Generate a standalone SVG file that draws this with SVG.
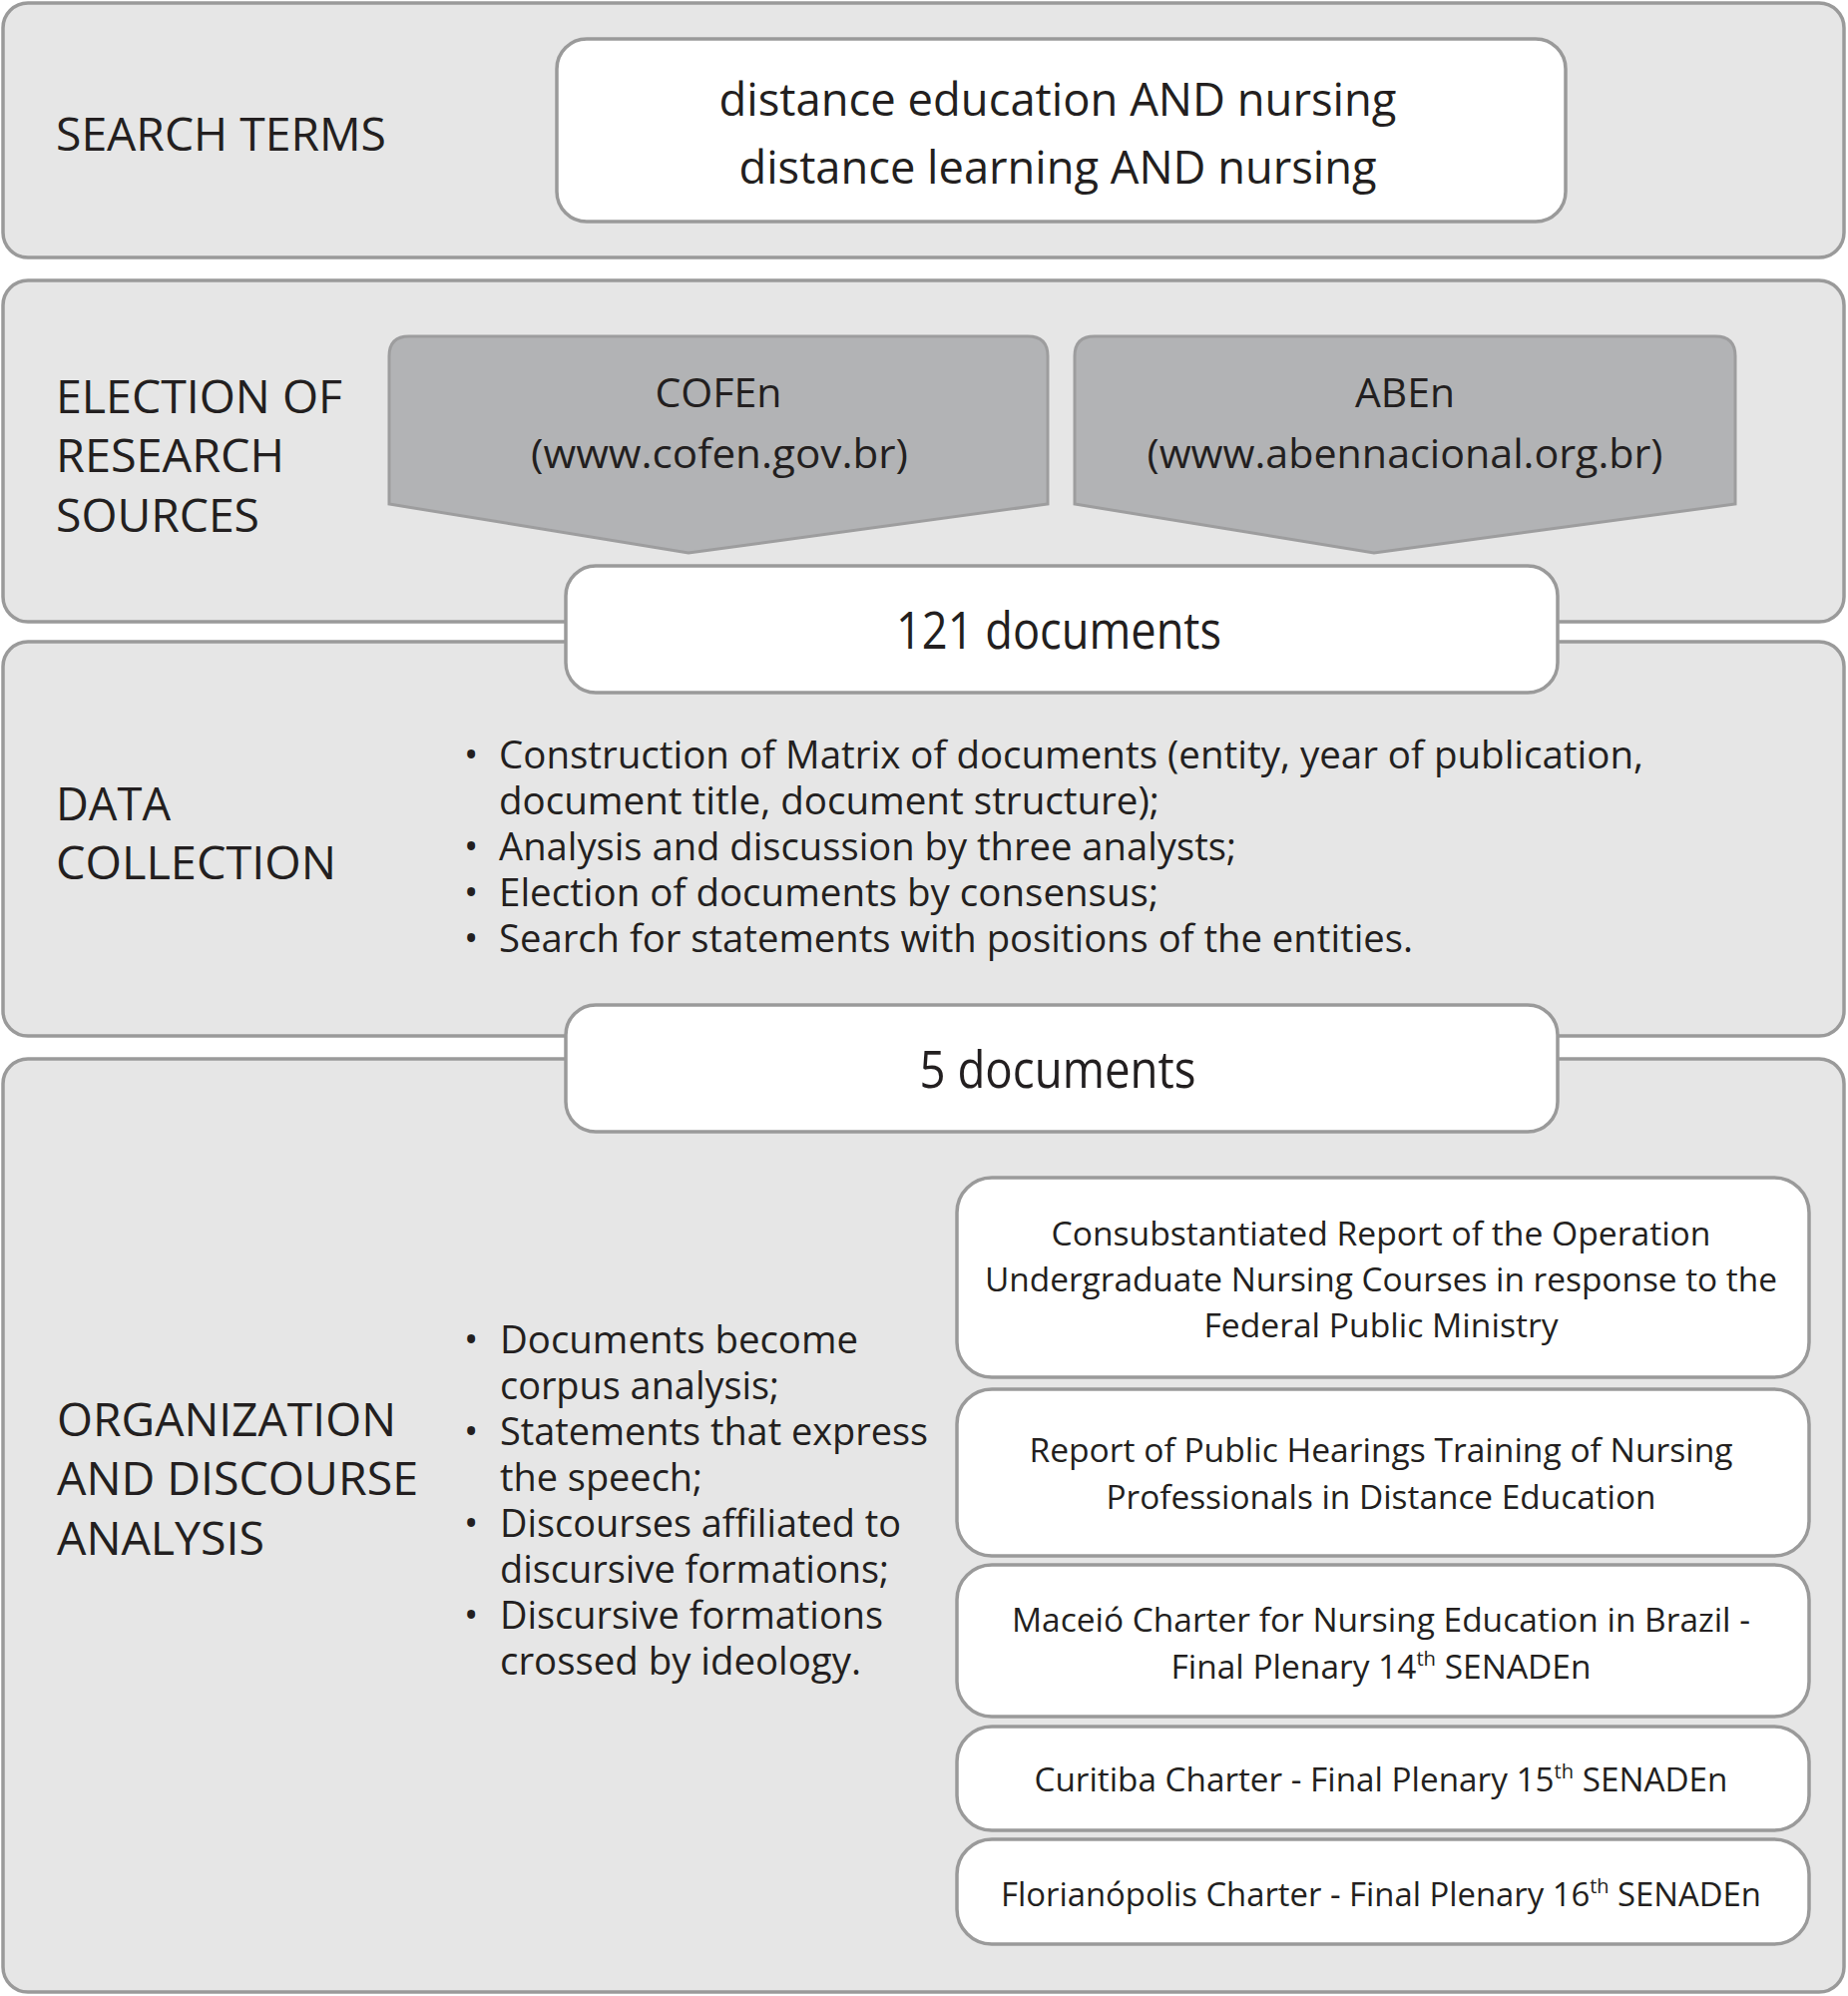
<svg xmlns="http://www.w3.org/2000/svg" width="1852" height="2000" viewBox="0 0 1852 2000">
<style>
.panel{fill:#e6e6e6;stroke:#9a9a9a;stroke-width:3.5}
.box{fill:#ffffff;stroke:#9a9a9a;stroke-width:3.5}
.chev{fill:#b2b3b5;stroke:#9d9d9e;stroke-width:3}
text{font-family:"Open Sans","Noto Sans","Liberation Sans",sans-serif;fill:#231f20}
.lbl{font-size:46px}
.mid{text-anchor:middle}
.big{font-size:46px}
.src{font-size:40px}
.cnt{font-size:51px}
.bl{font-size:38px}
.doc{font-size:33px}
.sup{font-size:20px}
</style>
<rect width="1852" height="2000" fill="#ffffff"/>

<g id="panel-search-terms">
<rect class="panel" x="3" y="3" width="1845" height="255" rx="25"/>
<text class="lbl" x="56" y="151" textLength="331" lengthAdjust="spacingAndGlyphs">SEARCH TERMS</text>
</g>
<g id="node-search-terms">
<rect class="box" x="558" y="39" width="1011" height="183" rx="30"/>
<text class="big mid"><tspan x="1060" y="116" textLength="679" lengthAdjust="spacingAndGlyphs">distance education AND nursing</tspan><tspan x="1060" y="184" textLength="639" lengthAdjust="spacingAndGlyphs">distance learning AND nursing</tspan></text>
</g>

<g id="panel-election">
<rect class="panel" x="3" y="281" width="1845" height="342" rx="25"/>
<text class="lbl"><tspan x="56" y="414" textLength="287" lengthAdjust="spacingAndGlyphs">ELECTION OF</tspan><tspan x="56" y="473" textLength="229" lengthAdjust="spacingAndGlyphs">RESEARCH</tspan><tspan x="56" y="533" textLength="204" lengthAdjust="spacingAndGlyphs">SOURCES</tspan></text>
</g>
<g id="node-cofen">
<path class="chev" d="M390,357 Q390,337 410,337 L1030,337 Q1050,337 1050,357 L1050,505 L690,554 L390,505 Z"/>
<text class="src mid"><tspan x="720" y="408" textLength="127" lengthAdjust="spacingAndGlyphs">COFEn</tspan><tspan x="721" y="469" textLength="378" lengthAdjust="spacingAndGlyphs">(www.cofen.gov.br)</tspan></text>
</g>
<g id="node-aben">
<path class="chev" d="M1077,357 Q1077,337 1097,337 L1719,337 Q1739,337 1739,357 L1739,505 L1377,554 L1077,505 Z"/>
<text class="src mid"><tspan x="1408" y="408" textLength="100" lengthAdjust="spacingAndGlyphs">ABEn</tspan><tspan x="1408" y="469" textLength="517" lengthAdjust="spacingAndGlyphs">(www.abennacional.org.br)</tspan></text>
</g>

<g id="panel-data-collection">
<rect class="panel" x="3" y="643" width="1845" height="395" rx="25"/>
<text class="lbl"><tspan x="56" y="822" textLength="115" lengthAdjust="spacingAndGlyphs">DATA</tspan><tspan x="56" y="881" textLength="281" lengthAdjust="spacingAndGlyphs">COLLECTION</tspan></text>
<text class="bl"><tspan x="465" y="770">•</tspan><tspan x="500" y="770" textLength="1147" lengthAdjust="spacingAndGlyphs">Construction of Matrix of documents (entity, year of publication,</tspan><tspan x="500" y="816" textLength="662" lengthAdjust="spacingAndGlyphs">document title, document structure);</tspan><tspan x="465" y="862">•</tspan><tspan x="500" y="862" textLength="739" lengthAdjust="spacingAndGlyphs">Analysis and discussion by three analysts;</tspan><tspan x="465" y="908">•</tspan><tspan x="500" y="908" textLength="661" lengthAdjust="spacingAndGlyphs">Election of documents by consensus;</tspan><tspan x="465" y="954">•</tspan><tspan x="500" y="954" textLength="916" lengthAdjust="spacingAndGlyphs">Search for statements with positions of the entities.</tspan></text>
</g>

<g id="panel-organization">
<rect class="panel" x="3" y="1061" width="1845" height="935" rx="25"/>
<text class="lbl"><tspan x="57" y="1439" textLength="340" lengthAdjust="spacingAndGlyphs">ORGANIZATION</tspan><tspan x="57" y="1498" textLength="362" lengthAdjust="spacingAndGlyphs">AND DISCOURSE</tspan><tspan x="57" y="1558" textLength="208" lengthAdjust="spacingAndGlyphs">ANALYSIS</tspan></text>
<text class="bl"><tspan x="465" y="1356">•</tspan><tspan x="501" y="1356" textLength="359" lengthAdjust="spacingAndGlyphs">Documents become</tspan><tspan x="501" y="1402" textLength="280" lengthAdjust="spacingAndGlyphs">corpus analysis;</tspan><tspan x="465" y="1448">•</tspan><tspan x="501" y="1448" textLength="429" lengthAdjust="spacingAndGlyphs">Statements that express</tspan><tspan x="501" y="1494" textLength="203" lengthAdjust="spacingAndGlyphs">the speech;</tspan><tspan x="465" y="1540">•</tspan><tspan x="501" y="1540" textLength="402" lengthAdjust="spacingAndGlyphs">Discourses affiliated to</tspan><tspan x="501" y="1586" textLength="390" lengthAdjust="spacingAndGlyphs">discursive formations;</tspan><tspan x="465" y="1632">•</tspan><tspan x="501" y="1632" textLength="384" lengthAdjust="spacingAndGlyphs">Discursive formations</tspan><tspan x="501" y="1678" textLength="362" lengthAdjust="spacingAndGlyphs">crossed by ideology.</tspan></text>
</g>

<g id="node-121-documents">
<rect class="box" x="567" y="567" width="994" height="127" rx="30"/>
<text class="cnt mid" x="1061" y="650" textLength="326" lengthAdjust="spacingAndGlyphs">121 documents</text>
</g>
<g id="node-5-documents">
<rect class="box" x="567" y="1007" width="994" height="127" rx="30"/>
<text class="cnt mid" x="1060" y="1090" textLength="277" lengthAdjust="spacingAndGlyphs">5 documents</text>
</g>

<g id="node-doc1">
<rect class="box" x="959" y="1180" width="854" height="200" rx="35"/>
<text class="doc mid"><tspan x="1384" y="1248" textLength="661" lengthAdjust="spacingAndGlyphs">Consubstantiated Report of the Operation</tspan><tspan x="1384" y="1294" textLength="794" lengthAdjust="spacingAndGlyphs">Undergraduate Nursing Courses in response to the</tspan><tspan x="1384" y="1340" textLength="355" lengthAdjust="spacingAndGlyphs">Federal Public Ministry</tspan></text>
</g>
<g id="node-doc2">
<rect class="box" x="959" y="1392" width="854" height="167" rx="35"/>
<text class="doc mid"><tspan x="1384" y="1465" textLength="705" lengthAdjust="spacingAndGlyphs">Report of Public Hearings Training of Nursing</tspan><tspan x="1384" y="1512" textLength="551" lengthAdjust="spacingAndGlyphs">Professionals in Distance Education</tspan></text>
</g>
<g id="node-doc3">
<rect class="box" x="959" y="1568" width="854" height="152" rx="35"/>
<text class="doc mid" x="1384" y="1635" textLength="740" lengthAdjust="spacingAndGlyphs">Maceió Charter for Nursing Education in Brazil -</text>
<text class="doc mid" x="1384" y="1682" textLength="421" lengthAdjust="spacingAndGlyphs">Final Plenary 14<tspan class="sup" dy="-13">th</tspan><tspan dy="13"> SENADEn</tspan></text>
</g>
<g id="node-doc4">
<rect class="box" x="959" y="1730" width="854" height="104" rx="35"/>
<text class="doc mid" x="1384" y="1795" textLength="695" lengthAdjust="spacingAndGlyphs">Curitiba Charter - Final Plenary 15<tspan class="sup" dy="-13">th</tspan><tspan dy="13"> SENADEn</tspan></text>
</g>
<g id="node-doc5">
<rect class="box" x="959" y="1843" width="854" height="105" rx="35"/>
<text class="doc mid" x="1384" y="1910" textLength="762" lengthAdjust="spacingAndGlyphs">Florianópolis Charter - Final Plenary 16<tspan class="sup" dy="-13">th</tspan><tspan dy="13"> SENADEn</tspan></text>
</g>

<g id="connectors"></g>
</svg>
